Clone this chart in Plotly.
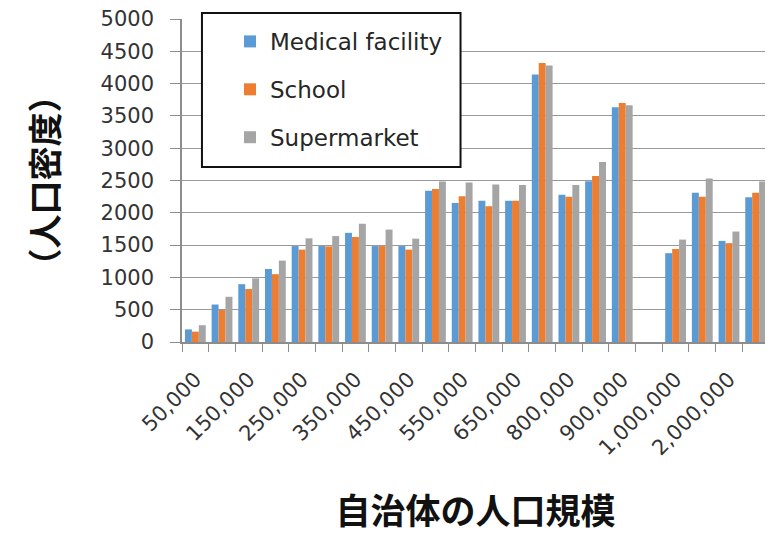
import plotly.graph_objects as go

categories = ["50,000", "100,000", "150,000", "200,000", "250,000", "300,000",
              "350,000", "400,000", "450,000", "500,000", "550,000", "600,000",
              "650,000", "700,000", "800,000", "850,000", "900,000", "950,000",
              "1,000,000", "1,500,000", "2,000,000", "3,000,000"]
medical = [195, 580, 895, 1130, 1485, 1485, 1690, 1485, 1485, 2340, 2150, 2185,
           2185, 4140, 2280, 2490, 3635, None, 1375, 2310, 1565, 2240]
school = [160, 495, 820, 1050, 1430, 1480, 1625, 1485, 1430, 2370, 2255, 2100,
          2185, 4320, 2250, 2570, 3700, None, 1440, 2250, 1530, 2310]
supermarket = [260, 700, 985, 1260, 1605, 1640, 1830, 1740, 1600, 2485, 2470, 2440,
               2430, 4280, 2430, 2785, 3665, None, 1585, 2530, 1710, 2485]
shown_labels = [c if i % 2 == 0 else "" for i, c in enumerate(categories)]

series = [("Medical facility", medical, "#5B9BD5"),
          ("School", school, "#ED7D31"),
          ("Supermarket", supermarket, "#A5A5A5")]

fig = go.Figure()
for name, vals, col in series:
    fig.add_trace(go.Bar(x=categories, y=vals, name=name, marker_color=col,
                         marker_line_width=0, legendgroup=name))

tick_font = dict(family="DejaVu Sans", size=21, color="#333333")
fig.update_layout(
    width=765, height=526,
    margin=dict(l=174, r=4, t=11, b=192),
    paper_bgcolor="white", plot_bgcolor="white",
    barmode="group", bargap=0.22, bargroupgap=0,
    showlegend=True,
    legend=dict(x=0.0818, y=0.997, xanchor="left", yanchor="top",
                font=dict(family="DejaVu Sans", size=23, color="#262626"),
                bgcolor="rgba(0,0,0,0)", borderwidth=0, tracegroupgap=15),
    xaxis=dict(type="category", categoryorder="array", categoryarray=categories,
               tickmode="array", tickvals=categories, ticktext=shown_labels,
               tickangle=-45, tickfont=tick_font, ticks="outside", ticklen=8,
               tickcolor="#8c8c8c", tickson="boundaries", showgrid=False,
               ticklabelstandoff=15, automargin=False,
               showline=True, linecolor="#8c8c8c", linewidth=1.5,
               title=dict(text="<b>自治体の人口規模</b>", standoff=64,
                          font=dict(family="Noto Sans CJK JP", size=35, color="#111111"))),
    yaxis=dict(range=[0, 5000], dtick=500, tickfont=tick_font, ticks="outside",
               ticklen=10, tickcolor="#8c8c8c", ticklabelstandoff=12, automargin=False,
               ticklabeloverflow="allow",
               showgrid=True, gridcolor="#999999", gridwidth=1.3, zeroline=False,
               showline=True, linecolor="#8c8c8c", linewidth=1.5,
               title=dict(text="<b>（人口密度）</b>", standoff=32,
                          font=dict(family="Noto Sans CJK JP", size=34, color="#111111"))),
    shapes=[dict(type="rect", xref="paper", yref="paper",
                 x0=0.034, x1=0.4745, y0=0.5418, y1=1.0186,
                 line=dict(color="#111111", width=2), fillcolor="white", layer="above")],
)

fig.write_html("out.html")
